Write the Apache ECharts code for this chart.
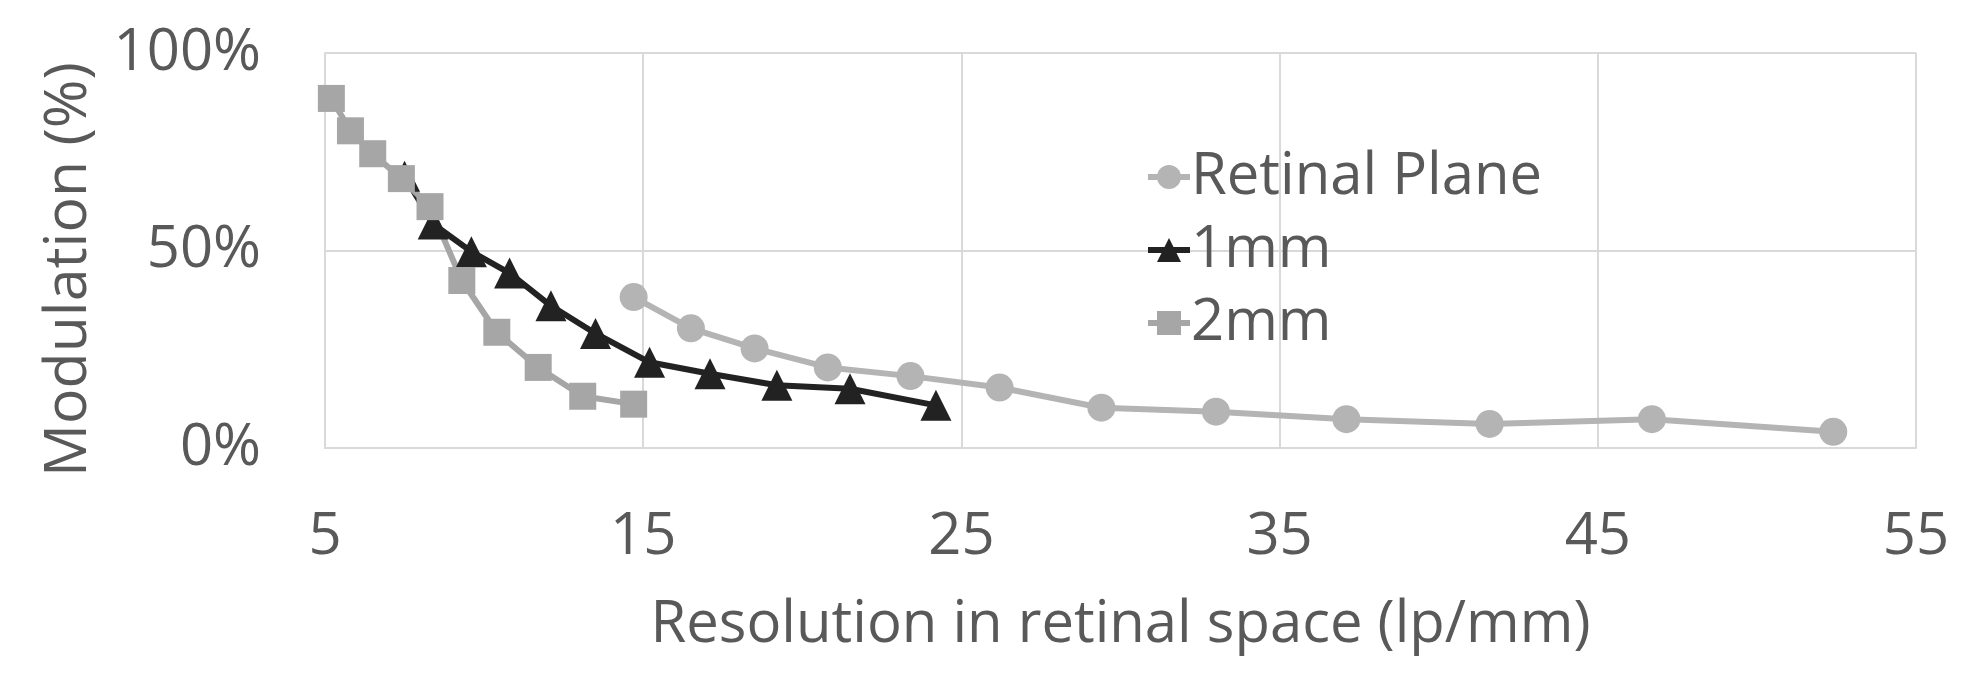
<!DOCTYPE html>
<html>
<head>
<meta charset="utf-8">
<script src="https://cdn.jsdelivr.net/npm/echarts@6/dist/echarts.min.js"></script>
<style>
  html, body { margin: 0; padding: 0; background: #fff; }
  #chart { width: 1974px; height: 686px; }
</style>
</head>
<body>
<div id="chart"></div>
<script>
// values: [resolution lp/mm, modulation %]
const retinalPlane = [
  [14.7, 38.2], [16.5, 30.3], [18.5, 25.2], [20.8, 20.4], [23.4, 18.2], [26.2, 15.3],
  [29.4, 10.2], [33.0, 9.2], [37.1, 7.3], [41.6, 6.1], [46.7, 7.3], [52.4, 4.1]
];
const mm1 = [
  [7.5, 68.8], [8.4, 56.7], [9.6, 49.7], [10.8, 44.3], [12.1, 36.0], [13.5, 29.0],
  [15.2, 21.7], [17.1, 18.8], [19.2, 15.9], [21.5, 15.0], [24.2, 10.8]
];
const mm2 = [
  [5.2, 88.5], [5.8, 80.3], [6.5, 74.5], [7.4, 68.2], [8.3, 61.1], [9.3, 42.4],
  [10.4, 29.3], [11.7, 20.4], [13.1, 13.1], [14.7, 11.1]
];
const seriesNames = ['Retinal Plane', '1mm', '2mm'];

const FONT = '"Open Sans", sans-serif';
const TEXT = '#595959';
const GRID = '#d9d9d9';

const chart = echarts.init(document.getElementById('chart'), null, { renderer: 'canvas' });

const option = {
  animation: false,
  textStyle: { fontFamily: FONT, color: TEXT },
  grid: { left: 325, right: 58, top: 53, bottom: 238 },
  legend: {
    orient: 'vertical',
    left: 1140,
    top: 143,
    itemWidth: 42,
    itemHeight: 30,
    itemGap: 15,
    lineStyle: { width: 6 },
    textStyle: { fontFamily: FONT, fontSize: 58, color: TEXT, padding: [0, 0, 0, -4] },
    data: seriesNames
  },
  xAxis: {
    type: 'value',
    min: 5,
    max: 55,
    interval: 10,
    name: 'Resolution in retinal space (lp/mm)',
    nameLocation: 'middle',
    nameGap: 148,
    nameTextStyle: { fontFamily: FONT, fontSize: 58, color: TEXT },
    axisLine: { show: true, lineStyle: { color: GRID, width: 2 } },
    axisTick: { show: false },
    axisLabel: { fontFamily: FONT, fontSize: 58, color: TEXT, margin: 60 },
    splitLine: { show: true, lineStyle: { color: GRID, width: 2 } }
  },
  yAxis: {
    type: 'value',
    min: 0,
    max: 100,
    interval: 50,
    name: 'Modulation (%)',
    nameLocation: 'middle',
    nameGap: 226,
    nameTextStyle: { fontFamily: FONT, fontSize: 59, color: TEXT, padding: [0, 38, 0, 0] },
    axisLine: { show: true, lineStyle: { color: GRID, width: 2 } },
    axisTick: { show: false },
    axisLabel: { fontFamily: FONT, fontSize: 58, color: TEXT, margin: 64, formatter: '{value}%' },
    splitLine: { show: true, lineStyle: { color: GRID, width: 2 } }
  },
  series: [
    {
      name: seriesNames[0],
      type: 'line',
      data: retinalPlane,
      symbol: 'circle',
      symbolSize: 28,
      itemStyle: { color: '#b4b4b4' },
      lineStyle: { color: '#b4b4b4', width: 6 }
    },
    {
      name: seriesNames[1],
      type: 'line',
      data: mm1,
      symbol: 'triangle',
      symbolSize: 31,
      itemStyle: { color: '#222222' },
      lineStyle: { color: '#222222', width: 6 }
    },
    {
      name: seriesNames[2],
      type: 'line',
      data: mm2,
      symbol: 'rect',
      symbolSize: 27,
      itemStyle: { color: '#a6a6a6' },
      lineStyle: { color: '#a6a6a6', width: 6 }
    }
  ]
};

chart.setOption(option);
</script>
</body>
</html>
